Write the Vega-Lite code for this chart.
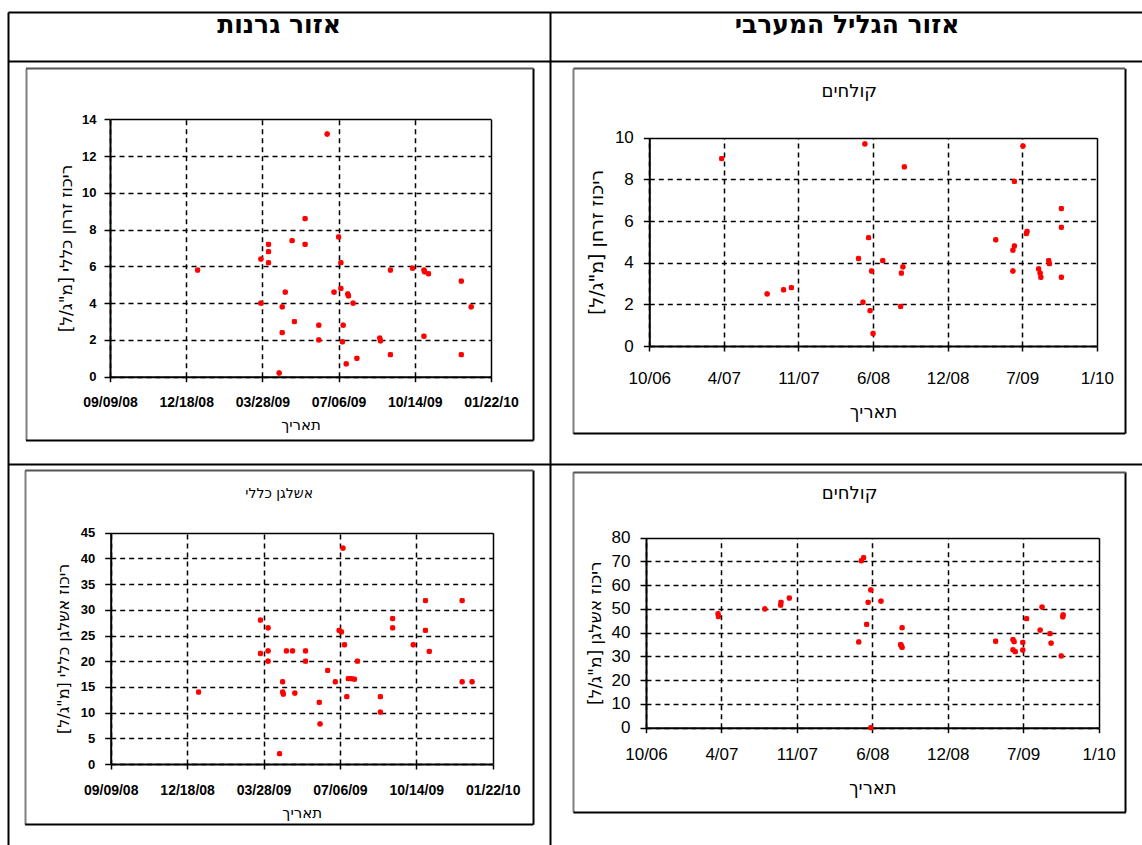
{
  "$schema": "https://vega.github.io/schema/vega-lite/v6.json",
  "width": 1142,
  "height": 845,
  "autosize": "none",
  "padding": 0,
  "background": "white",
  "config": {
    "view": {"stroke": null},
    "font": "Liberation Sans, DejaVu Sans, sans-serif",
    "axis": {
      "labelFont": "Liberation Sans, DejaVu Sans, sans-serif",
      "titleFont": "DejaVu Sans, sans-serif",
      "labelColor": "#000",
      "titleColor": "#000",
      "domainColor": "#000",
      "tickColor": "#000",
      "gridColor": "#000",
      "gridOpacity": 1,
      "labelFlush": false,
      "labelOverlap": false,
      "labelBound": false,
      "domainWidth": 2,
      "tickWidth": 1.5,
      "gridWidth": 1.5,
      "titleFontWeight": "normal"
    }
  },
  "datasets": {
    "tl": [
      {"date": "2009-01-02", "value": 5.8}, {"date": "2009-03-26", "value": 6.4}, {"date": "2009-03-26", "value": 4.0},
      {"date": "2009-04-05", "value": 7.2}, {"date": "2009-04-05", "value": 6.8}, {"date": "2009-04-05", "value": 6.2},
      {"date": "2009-04-19", "value": 0.2}, {"date": "2009-04-23", "value": 3.8}, {"date": "2009-04-23", "value": 2.4},
      {"date": "2009-04-27", "value": 4.6}, {"date": "2009-05-06", "value": 7.4}, {"date": "2009-05-09", "value": 3.0},
      {"date": "2009-05-23", "value": 8.6}, {"date": "2009-05-23", "value": 7.2}, {"date": "2009-06-10", "value": 2.8},
      {"date": "2009-06-10", "value": 2.0}, {"date": "2009-06-21", "value": 13.2}, {"date": "2009-06-30", "value": 4.6},
      {"date": "2009-07-06", "value": 7.6}, {"date": "2009-07-09", "value": 6.2}, {"date": "2009-07-09", "value": 4.8},
      {"date": "2009-07-11", "value": 1.9}, {"date": "2009-07-12", "value": 2.8}, {"date": "2009-07-16", "value": 0.7},
      {"date": "2009-07-18", "value": 4.5}, {"date": "2009-07-19", "value": 4.4}, {"date": "2009-07-25", "value": 4.0},
      {"date": "2009-07-30", "value": 1.0}, {"date": "2009-08-29", "value": 2.1}, {"date": "2009-08-30", "value": 1.95},
      {"date": "2009-09-12", "value": 5.8}, {"date": "2009-09-12", "value": 1.2}, {"date": "2009-10-11", "value": 5.9},
      {"date": "2009-10-26", "value": 5.8}, {"date": "2009-10-27", "value": 5.7}, {"date": "2009-11-01", "value": 5.6},
      {"date": "2009-10-26", "value": 2.2}, {"date": "2009-12-14", "value": 5.2}, {"date": "2009-12-14", "value": 1.2},
      {"date": "2009-12-27", "value": 3.8}
    ],
    "tr": [
      {"date": "2007-04-22", "value": 9.0}, {"date": "2007-08-22", "value": 2.5}, {"date": "2007-10-05", "value": 2.7},
      {"date": "2007-10-26", "value": 2.8}, {"date": "2008-04-23", "value": 4.2}, {"date": "2008-05-05", "value": 2.1},
      {"date": "2008-05-10", "value": 9.7}, {"date": "2008-05-20", "value": 5.2}, {"date": "2008-05-24", "value": 1.7},
      {"date": "2008-05-28", "value": 3.6}, {"date": "2008-06-01", "value": 0.6}, {"date": "2008-06-27", "value": 4.1},
      {"date": "2008-08-14", "value": 1.9}, {"date": "2008-08-16", "value": 3.5}, {"date": "2008-08-20", "value": 3.8},
      {"date": "2008-08-24", "value": 8.6}, {"date": "2009-04-26", "value": 5.1}, {"date": "2009-06-11", "value": 3.6},
      {"date": "2009-06-15", "value": 7.9}, {"date": "2009-06-11", "value": 4.6}, {"date": "2009-06-15", "value": 4.8},
      {"date": "2009-07-08", "value": 9.6}, {"date": "2009-07-17", "value": 5.4}, {"date": "2009-07-19", "value": 5.5},
      {"date": "2009-08-19", "value": 3.7}, {"date": "2009-08-23", "value": 3.5}, {"date": "2009-08-25", "value": 3.3},
      {"date": "2009-09-15", "value": 4.1}, {"date": "2009-09-17", "value": 3.95}, {"date": "2009-10-19", "value": 6.6},
      {"date": "2009-10-19", "value": 5.7}, {"date": "2009-10-19", "value": 3.3}
    ],
    "bl": [
      {"date": "2009-01-02", "value": 14}, {"date": "2009-03-24", "value": 28}, {"date": "2009-03-24", "value": 21.5},
      {"date": "2009-04-03", "value": 26.5}, {"date": "2009-04-03", "value": 22}, {"date": "2009-04-03", "value": 20},
      {"date": "2009-04-18", "value": 2}, {"date": "2009-04-22", "value": 16}, {"date": "2009-04-22", "value": 14},
      {"date": "2009-04-23", "value": 13.6}, {"date": "2009-04-27", "value": 22}, {"date": "2009-05-05", "value": 22},
      {"date": "2009-05-08", "value": 13.8}, {"date": "2009-05-22", "value": 22}, {"date": "2009-05-22", "value": 20},
      {"date": "2009-06-09", "value": 12}, {"date": "2009-06-10", "value": 7.8}, {"date": "2009-06-20", "value": 18.2},
      {"date": "2009-06-30", "value": 16}, {"date": "2009-07-05", "value": 26}, {"date": "2009-07-08", "value": 25.7},
      {"date": "2009-07-10", "value": 42}, {"date": "2009-07-12", "value": 23.2}, {"date": "2009-07-15", "value": 13.1},
      {"date": "2009-07-17", "value": 16.6}, {"date": "2009-07-21", "value": 16.6}, {"date": "2009-07-25", "value": 16.5},
      {"date": "2009-07-29", "value": 20}, {"date": "2009-08-28", "value": 13.1}, {"date": "2009-08-28", "value": 10.1},
      {"date": "2009-09-13", "value": 28.3}, {"date": "2009-09-13", "value": 26.5}, {"date": "2009-10-10", "value": 23.2},
      {"date": "2009-10-26", "value": 31.8}, {"date": "2009-10-26", "value": 26}, {"date": "2009-10-31", "value": 21.9},
      {"date": "2009-12-13", "value": 31.8}, {"date": "2009-12-13", "value": 16}, {"date": "2009-12-26", "value": 16}
    ],
    "br": [
      {"date": "2007-04-19", "value": 48}, {"date": "2007-04-20", "value": 46.8}, {"date": "2007-08-21", "value": 50},
      {"date": "2007-10-02", "value": 51.6}, {"date": "2007-10-03", "value": 52.8}, {"date": "2007-10-25", "value": 54.6},
      {"date": "2008-04-26", "value": 36.1}, {"date": "2008-05-03", "value": 70.3}, {"date": "2008-05-09", "value": 71.6},
      {"date": "2008-05-17", "value": 43.5}, {"date": "2008-05-21", "value": 52.8}, {"date": "2008-05-28", "value": 58},
      {"date": "2008-05-28", "value": 0}, {"date": "2008-06-24", "value": 53.3}, {"date": "2008-08-19", "value": 42.1},
      {"date": "2008-08-15", "value": 35}, {"date": "2008-08-19", "value": 33.8}, {"date": "2008-08-17", "value": 34.5},
      {"date": "2009-04-24", "value": 36.4}, {"date": "2009-06-09", "value": 37.1}, {"date": "2009-06-12", "value": 36.2},
      {"date": "2009-06-09", "value": 32.8}, {"date": "2009-06-15", "value": 32}, {"date": "2009-07-05", "value": 35.9},
      {"date": "2009-07-05", "value": 32.7}, {"date": "2009-07-15", "value": 45.9}, {"date": "2009-08-20", "value": 41.1},
      {"date": "2009-08-25", "value": 50.8}, {"date": "2009-09-15", "value": 39.6}, {"date": "2009-09-18", "value": 35.6},
      {"date": "2009-10-15", "value": 30.2}, {"date": "2009-10-19", "value": 46.7}, {"date": "2009-10-20", "value": 47.5}
    ]
  },
  "resolve": {
    "scale": {"x": "independent", "y": "independent"},
    "axis": {"x": "independent", "y": "independent"}
  },
  "layer": [
    {
      "layer": [
        {
          "data": {"values": [{"region": "אזור גרנות"}]},
          "mark": {"type": "text", "font": "DejaVu Sans, sans-serif", "fontSize": 25, "fontWeight": "bold", "align": "center", "baseline": "alphabetic", "color": "#000"},
          "encoding": {
            "text": {"field": "region"},
            "x": {"datum": 0.5, "type": "quantitative",
              "scale": {"domain": [0, 2.1], "range": [8, 1146.2], "nice": false, "zero": false},
              "axis": {"orient": "top", "values": [0, 1], "grid": true, "gridWidth": 2, "gridDash": [], "domain": false, "ticks": false, "labels": false, "title": null}},
            "y": {"datum": 0.02518, "type": "quantitative",
              "scale": {"domain": [0, 1], "range": [12, 846], "nice": false, "zero": false},
              "axis": {"orient": "left", "values": [0, 0.05875, 0.54197], "grid": true, "gridWidth": 2, "gridDash": [], "domain": false, "ticks": false, "labels": false, "title": null}}
          }
        },
        {
          "data": {"values": [{"region": "אזור הגליל המערבי"}]},
          "mark": {"type": "text", "font": "DejaVu Sans, sans-serif", "fontSize": 25, "fontWeight": "bold", "align": "center", "baseline": "alphabetic", "color": "#000"},
          "encoding": {
            "text": {"field": "region"},
            "x": {"datum": 1.548, "type": "quantitative",
              "axis": {"orient": "top", "values": [0, 1], "grid": true, "gridWidth": 2, "gridDash": [], "domain": false, "ticks": false, "labels": false, "title": null}},
            "y": {"datum": 0.02518, "type": "quantitative",
              "axis": {"orient": "left", "values": [0, 0.05875, 0.54197], "grid": true, "gridWidth": 2, "gridDash": [], "domain": false, "ticks": false, "labels": false, "title": null}}
          }
        }
      ]
    },
    {
      "data": {"name": "tl"},
      "mark": {"type": "point", "shape": "cross", "filled": true, "size": 28, "color": "#ff0000", "opacity": 1},
      "encoding": {
        "x": {"field": "date", "type": "temporal",
          "scale": {"type": "utc", "domain": [1211337331200, 1268880595200], "range": [25.5, 533], "nice": false},
          "axis": {"orient": "top", "values": [1211337331200, 1268880595200], "grid": true, "gridWidth": 2, "gridDash": [],
            "gridColor": {"condition": {"test": "datum.value > 1240000000000", "value": "#000"}, "value": "#808080"},
            "domain": false, "ticks": false, "labels": false, "title": null}},
        "y": {"field": "value", "type": "quantitative",
          "scale": {"domain": [-3.443, 16.79], "range": [440, 68], "nice": false, "zero": false},
          "axis": {"orient": "left", "values": [-3.443, 16.79], "grid": true, "gridWidth": 2, "gridDash": [],
            "gridColor": {"condition": {"test": "datum.value > 0", "value": "#555"}, "value": "#000"},
            "domain": false, "ticks": false, "labels": false, "title": null}}
      }
    },
    {
      "data": {"name": "tl"},
      "mark": {"type": "point", "shape": "square", "filled": true, "size": 22, "color": "#ff0000", "opacity": 1},
      "encoding": {
        "x": {"field": "date", "type": "temporal",
          "scale": {"type": "utc", "domain": [1220918400000, 1264118400000], "range": [110, 491], "nice": false},
          "axis": {"orient": "top", "offset": -376.7,
            "values": [1220918400000, 1229558400000, 1238198400000, 1246838400000, 1255478400000, 1264118400000],
            "labelExpr": "utcFormat(datum.value, '%m/%d/%y')",
            "grid": true, "gridDash": {"condition": {"test": "datum.value >= 1264118400000", "value": []}, "value": [5, 4]},
            "tickSize": -5, "labelPadding": -14, "labelBaseline": "top", "labelFontSize": 14, "labelFontWeight": "bold",
            "title": "תאריך", "titleY": 41, "titleBaseline": "top", "titleFontSize": 15}},
        "y": {"field": "value", "type": "quantitative",
          "scale": {"domain": [0, 14], "range": [376.7, 119.3], "nice": false, "zero": false},
          "axis": {"orient": "left", "offset": -110, "values": [0, 2, 4, 6, 8, 10, 12, 14],
            "grid": true, "gridDash": {"condition": {"test": "datum.value >= 14", "value": []}, "value": [5, 4]},
            "tickSize": 6, "labelPadding": 8, "labelFontSize": 13, "labelFontWeight": "bold",
            "title": "ריכוז זרחן כללי [מ\"ג/ל]", "titleX": -44, "titleAngle": 270, "titleBaseline": "middle", "titleAlign": "center", "titleFontSize": 17}}
      }
    },
    {
      "data": {"name": "tr"},
      "mark": {"type": "point", "shape": "cross", "filled": true, "size": 28, "color": "#ff0000", "opacity": 1},
      "encoding": {
        "x": {"field": "date", "type": "temporal",
          "scale": {"type": "utc", "domain": [1142737545600, 1270559260800], "range": [572.9, 1124.6], "nice": false},
          "axis": {"orient": "top", "values": [1142737545600, 1270559260800], "grid": true, "gridWidth": 2, "gridDash": [],
            "gridColor": {"condition": {"test": "datum.value > 1200000000000", "value": "#000"}, "value": "#808080"},
            "domain": false, "ticks": false, "labels": false,
            "title": "קולחים", "titleY": 96, "titleBaseline": "alphabetic", "titleFontSize": 18}},
        "y": {"field": "value", "type": "quantitative",
          "scale": {"domain": [-4.191, 13.332], "range": [433.3, 68.3], "nice": false, "zero": false},
          "axis": {"orient": "left", "values": [-4.191, 13.332], "grid": true, "gridWidth": 2, "gridDash": [],
            "gridColor": {"condition": {"test": "datum.value > 0", "value": "#555"}, "value": "#000"},
            "domain": false, "ticks": false, "labels": false, "title": null}}
      }
    },
    {
      "data": {"name": "tr"},
      "mark": {"type": "point", "shape": "square", "filled": true, "size": 22, "color": "#ff0000", "opacity": 1},
      "encoding": {
        "x": {"field": "date", "type": "temporal",
          "scale": {"type": "utc", "domain": [1160438400000, 1264118400000], "range": [649.3, 1096.8], "nice": false},
          "axis": {"orient": "top", "offset": -346,
            "values": [1160438400000, 1177718400000, 1194998400000, 1212278400000, 1229558400000, 1246838400000, 1264118400000],
            "labelExpr": "utcFormat(datum.value, '%-m/%y')",
            "grid": true, "gridDash": {"condition": {"test": "datum.value >= 1264118400000", "value": []}, "value": [5, 4]},
            "tickSize": -5, "labelPadding": -19, "labelBaseline": "top", "labelFontSize": 17,
            "title": "תאריך", "titleY": 57, "titleBaseline": "top", "titleFontSize": 18}},
        "y": {"field": "value", "type": "quantitative",
          "scale": {"domain": [0, 10], "range": [346, 137.7], "nice": false, "zero": false},
          "axis": {"orient": "left", "offset": -649.3, "values": [0, 2, 4, 6, 8, 10],
            "grid": true, "gridDash": {"condition": {"test": "datum.value >= 10", "value": []}, "value": [5, 4]},
            "tickSize": 6, "labelPadding": 10, "labelFontSize": 17,
            "title": "ריכוז זרחן [מ\"ג/ל]", "titleX": -53, "titleAngle": 270, "titleBaseline": "middle", "titleAlign": "center", "titleFontSize": 19}}
      }
    },
    {
      "data": {"name": "bl"},
      "mark": {"type": "point", "shape": "cross", "filled": true, "size": 28, "color": "#ff0000", "opacity": 1},
      "encoding": {
        "x": {"field": "date", "type": "temporal",
          "scale": {"type": "utc", "domain": [1211192784000, 1268641958400], "range": [24.7, 532.7], "nice": false},
          "axis": {"orient": "top", "values": [1211192784000, 1268641958400], "grid": true, "gridWidth": 2, "gridDash": [],
            "gridColor": {"condition": {"test": "datum.value > 1240000000000", "value": "#000"}, "value": "#808080"},
            "domain": false, "ticks": false, "labels": false,
            "title": "אשלגן כללי", "titleY": 497, "titleBaseline": "alphabetic", "titleFontSize": 14}},
        "y": {"field": "value", "type": "quantitative",
          "scale": {"domain": [-11.732, 57.198], "range": [824.3, 470], "nice": false, "zero": false},
          "axis": {"orient": "left", "values": [-11.732, 57.198], "grid": true, "gridWidth": 2, "gridDash": [],
            "gridColor": {"condition": {"test": "datum.value > 0", "value": "#555"}, "value": "#000"},
            "domain": false, "ticks": false, "labels": false, "title": null}}
      }
    },
    {
      "data": {"name": "bl"},
      "mark": {"type": "point", "shape": "square", "filled": true, "size": 22, "color": "#ff0000", "opacity": 1},
      "encoding": {
        "x": {"field": "date", "type": "temporal",
          "scale": {"type": "utc", "domain": [1220918400000, 1264118400000], "range": [110.7, 492.7], "nice": false},
          "axis": {"orient": "top", "offset": -764,
            "values": [1220918400000, 1229558400000, 1238198400000, 1246838400000, 1255478400000, 1264118400000],
            "labelExpr": "utcFormat(datum.value, '%m/%d/%y')",
            "grid": true, "gridDash": {"condition": {"test": "datum.value >= 1264118400000", "value": []}, "value": [5, 4]},
            "tickSize": -5, "labelPadding": -14, "labelBaseline": "top", "labelFontSize": 14, "labelFontWeight": "bold",
            "title": "תאריך", "titleY": 41, "titleBaseline": "top", "titleFontSize": 15}},
        "y": {"field": "value", "type": "quantitative",
          "scale": {"domain": [0, 45], "range": [764, 532.7], "nice": false, "zero": false},
          "axis": {"orient": "left", "offset": -110.7, "values": [0, 5, 10, 15, 20, 25, 30, 35, 40, 45],
            "grid": true, "gridDash": {"condition": {"test": "datum.value >= 45", "value": []}, "value": [5, 4]},
            "tickSize": 6, "labelPadding": 10, "labelFontSize": 13, "labelFontWeight": "bold",
            "title": "ריכוז אשלגן כללי [מ\"ג/ל]", "titleX": -47, "titleAngle": 270, "titleBaseline": "middle", "titleAlign": "center", "titleFontSize": 16}}
      }
    },
    {
      "data": {"name": "br"},
      "mark": {"type": "point", "shape": "cross", "filled": true, "size": 28, "color": "#ff0000", "opacity": 1},
      "encoding": {
        "x": {"field": "date", "type": "temporal",
          "scale": {"type": "utc", "domain": [1143693216000, 1270257984000], "range": [572.9, 1125.4], "nice": false},
          "axis": {"orient": "top", "values": [1143693216000, 1270257984000], "grid": true, "gridWidth": 2, "gridDash": [],
            "gridColor": {"condition": {"test": "datum.value > 1200000000000", "value": "#000"}, "value": "#808080"},
            "domain": false, "ticks": false, "labels": false,
            "title": "קולחים", "titleY": 498, "titleBaseline": "alphabetic", "titleFontSize": 18}},
        "y": {"field": "value", "type": "quantitative",
          "scale": {"domain": [-35.368, 107.789], "range": [811.7, 471.7], "nice": false, "zero": false},
          "axis": {"orient": "left", "values": [-35.368, 107.789], "grid": true, "gridWidth": 2, "gridDash": [],
            "gridColor": {"condition": {"test": "datum.value > 0", "value": "#555"}, "value": "#000"},
            "domain": false, "ticks": false, "labels": false, "title": null}}
      }
    },
    {
      "data": {"name": "br"},
      "mark": {"type": "point", "shape": "square", "filled": true, "size": 22, "color": "#ff0000", "opacity": 1},
      "encoding": {
        "x": {"field": "date", "type": "temporal",
          "scale": {"type": "utc", "domain": [1160438400000, 1264118400000], "range": [646, 1098.6], "nice": false},
          "axis": {"orient": "top", "offset": -727.7,
            "values": [1160438400000, 1177718400000, 1194998400000, 1212278400000, 1229558400000, 1246838400000, 1264118400000],
            "labelExpr": "utcFormat(datum.value, '%-m/%y')",
            "grid": true, "gridDash": {"condition": {"test": "datum.value >= 1264118400000", "value": []}, "value": [5, 4]},
            "tickSize": -5, "labelPadding": -14, "labelBaseline": "top", "labelFontSize": 17,
            "title": "תאריך", "titleY": 52, "titleBaseline": "top", "titleFontSize": 18}},
        "y": {"field": "value", "type": "quantitative",
          "scale": {"domain": [0, 80], "range": [727.7, 537.7], "nice": false, "zero": false},
          "axis": {"orient": "left", "offset": -646, "values": [0, 10, 20, 30, 40, 50, 60, 70, 80],
            "grid": true, "gridDash": {"condition": {"test": "datum.value >= 80", "value": []}, "value": [5, 4]},
            "tickSize": 6, "labelPadding": 10, "labelFontSize": 17,
            "title": "ריכוז אשלגן [מ\"ג/ל]", "titleX": -51, "titleAngle": 270, "titleBaseline": "middle", "titleAlign": "center", "titleFontSize": 17}}
      }
    }
  ]
}
